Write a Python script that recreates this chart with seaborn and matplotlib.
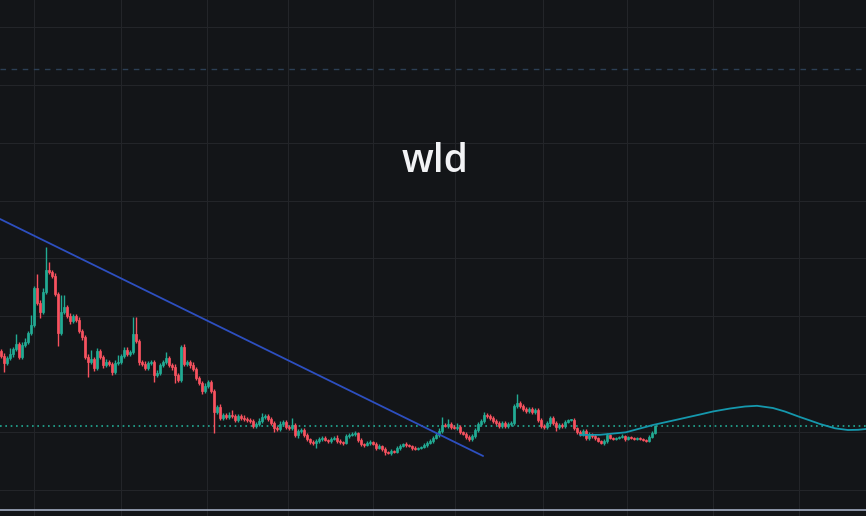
import numpy as np
import pandas as pd
import matplotlib
matplotlib.use("Agg")
import matplotlib.pyplot as plt
import seaborn as sns

# ---------------- data ----------------
title_text = "wld"
first_open = 16.5
closes = [
    16.0, 15.3, 15.8, 16.2, 16.7, 17.2, 15.9, 17.1, 17.4, 18.3,
    19.1, 22.8, 21.3, 20.4, 22.4, 24.6, 24.4, 24.0, 22.2, 18.3,
    20.4, 20.9, 20.0, 19.5, 20.0, 19.6, 18.5, 17.9, 15.9, 15.4,
    15.7, 14.8, 16.5, 15.9, 15.1, 15.4, 15.2, 14.4, 15.3, 15.4,
    16.0, 16.6, 16.2, 16.4, 18.2, 17.5, 15.4, 15.2, 14.8, 15.3,
    15.4, 14.1, 14.3, 15.1, 15.4, 15.8, 15.1, 14.9, 14.1, 13.6,
    16.9, 15.2, 15.4, 15.1, 14.7, 13.8, 13.3, 12.5, 13.0, 13.4,
    12.5, 10.4, 10.9, 9.8, 10.1, 9.9, 10.1, 10.0, 9.6, 10.0,
    9.8, 9.7, 9.6, 9.5, 9.0, 9.2, 9.5, 9.9, 10.0, 9.7,
    9.3, 8.8, 8.7, 9.2, 9.4, 8.9, 8.8, 9.1, 8.1, 8.5,
    8.6, 8.1, 7.7, 7.4, 7.3, 7.5, 7.7, 7.8, 7.6, 7.5,
    7.7, 7.8, 7.5, 7.4, 7.3, 8.0, 8.1, 8.2, 8.3, 7.6,
    7.2, 7.1, 7.3, 7.4, 7.2, 6.8, 7.0, 6.7, 6.4, 6.3,
    6.5, 6.4, 6.8, 7.0, 7.2, 7.1, 7.0, 6.8, 6.7, 6.8,
    6.9, 7.1, 7.3, 7.5, 7.8, 8.1, 8.5, 9.1, 9.0, 9.2,
    8.9, 8.8, 8.9, 8.4, 8.2, 7.9, 7.7, 8.0, 8.6, 9.2,
    9.5, 10.1, 10.0, 9.8, 9.5, 9.3, 9.0, 9.3, 9.0, 9.2,
    9.3, 11.0, 11.3, 11.0, 10.7, 10.5, 10.7, 10.4, 10.6, 9.6,
    9.0, 8.9, 9.3, 9.8, 9.3, 8.9, 9.1, 9.0, 9.4, 9.6,
    9.65, 8.8, 8.4, 8.2, 8.5, 7.8, 8.2, 8.0, 7.8, 7.5,
    7.3, 7.5, 8.1, 7.8, 7.7, 7.8, 7.9, 8.0, 7.7, 7.9,
    7.8, 7.7, 7.8, 7.7, 7.6, 7.5, 7.9, 8.3, 9.0,
]
wick_up = [
    0.2, 0.3, 0.2, 0.6, 0.2, 1.0, 0.2, 0.3, 0.4, 0.2,
    1.0, 0.2, 1.4, 0.3, 0.4, 2.3, 0.8, 0.2, 0.3, 0.2,
    1.7, 1.2, 0.2, 0.3, 0.2, 0.2, 0.3, 0.2, 0.2, 0.3,
    0.9, 0.2, 0.3, 0.2, 0.2, 0.3, 0.2, 0.2, 0.3, 0.7,
    0.2, 0.3, 0.3, 0.2, 1.7, 1.7, 0.2, 0.2, 0.3, 0.2,
    0.2, 0.2, 0.3, 0.2, 0.2, 0.6, 0.2, 0.2, 0.3, 0.2,
    0.2, 0.3, 0.2, 0.2, 0.3, 0.2, 0.2, 0.2, 0.3, 0.2,
    0.2, 0.2, 0.2, 0.3, 0.2, 0.2, 0.3, 0.5, 0.2, 0.2,
    0.2, 0.3, 0.2, 0.2, 0.2, 0.2, 0.3, 0.4, 0.2, 0.2,
    0.2, 0.2, 0.2, 0.3, 0.2, 0.2, 0.2, 0.7, 0.2, 0.2,
    0.2, 0.2, 0.2, 0.1, 0.2, 0.2, 0.2, 0.2, 0.2, 0.1,
    0.2, 0.2, 0.3, 0.2, 0.1, 0.2, 0.2, 0.2, 0.2, 0.1,
    0.2, 0.1, 0.2, 0.2, 0.1, 0.2, 0.2, 0.1, 0.2, 0.1,
    0.2, 0.1, 0.2, 0.2, 0.1, 0.2, 0.1, 0.1, 0.2, 0.1,
    0.1, 0.2, 0.2, 0.2, 0.2, 0.2, 0.3, 0.8, 0.2, 0.5,
    0.2, 0.2, 0.4, 0.2, 0.1, 0.2, 0.2, 0.2, 0.2, 0.2,
    0.2, 0.3, 0.2, 0.2, 0.2, 0.2, 0.2, 0.2, 0.2, 0.2,
    0.2, 0.2, 0.9, 0.2, 0.2, 0.2, 0.2, 0.2, 0.2, 0.2,
    0.2, 0.2, 0.2, 0.2, 0.2, 0.2, 0.2, 0.2, 0.2, 0.1,
    0.1, 0.2, 0.1, 0.2, 0.2, 0.2, 0.2, 0.1, 0.2, 0.1,
    0.1, 0.2, 0.2, 0.1, 0.1, 0.1, 0.1, 0.2, 0.1, 0.1,
    0.1, 0.1, 0.1, 0.1, 0.1, 0.1, 0.2, 0.2, 0.1,
]
wick_dn = [
    0.2, 0.9, 0.2, 0.2, 0.3, 0.2, 0.2, 0.2, 0.2, 0.2,
    0.2, 0.2, 0.2, 0.6, 0.2, 0.2, 0.2, 0.2, 0.2, 1.3,
    0.2, 0.2, 0.2, 0.3, 0.2, 0.2, 0.2, 0.3, 0.2, 1.5,
    0.2, 0.3, 0.2, 0.2, 0.3, 0.2, 0.2, 0.3, 0.2, 0.2,
    0.2, 0.2, 0.2, 0.2, 0.2, 0.2, 0.3, 0.2, 0.2, 0.2,
    0.2, 0.7, 0.2, 0.2, 0.2, 0.2, 0.2, 0.3, 0.8, 0.2,
    0.2, 0.2, 0.2, 0.3, 0.2, 0.2, 0.2, 0.3, 0.2, 0.2,
    0.2, 2.1, 0.2, 0.2, 0.2, 0.2, 0.2, 0.2, 0.2, 0.2,
    0.2, 0.2, 0.2, 0.2, 0.2, 0.2, 0.2, 0.2, 0.2, 0.2,
    0.2, 0.4, 0.2, 0.2, 0.2, 0.2, 0.2, 0.2, 0.2, 0.3,
    0.2, 0.2, 0.2, 0.2, 0.2, 0.5, 0.2, 0.2, 0.1, 0.2,
    0.2, 0.1, 0.2, 0.2, 0.2, 0.1, 0.2, 0.1, 0.2, 0.2,
    0.2, 0.2, 0.1, 0.2, 0.1, 0.2, 0.1, 0.2, 0.3, 0.1,
    0.2, 0.1, 0.1, 0.2, 0.1, 0.2, 0.1, 0.2, 0.1, 0.1,
    0.1, 0.1, 0.2, 0.1, 0.2, 0.1, 0.2, 0.2, 0.1, 0.2,
    0.2, 0.1, 0.2, 0.2, 0.1, 0.2, 0.2, 0.2, 0.2, 0.2,
    0.2, 0.2, 0.2, 0.2, 0.2, 0.2, 0.2, 0.2, 0.2, 0.2,
    0.2, 0.2, 0.2, 0.2, 0.2, 0.2, 0.2, 0.2, 0.2, 0.2,
    0.2, 0.2, 0.2, 0.2, 0.2, 0.4, 0.2, 0.2, 0.2, 0.1,
    0.1, 0.2, 0.2, 0.2, 0.2, 0.2, 0.2, 0.2, 0.2, 0.1,
    0.1, 0.2, 0.2, 0.1, 0.1, 0.1, 0.1, 0.1, 0.2, 0.1,
    0.1, 0.1, 0.1, 0.1, 0.1, 0.1, 0.1, 0.1, 0.1,
]

# time grid (candle index) and price grid
month_ticks = [11, 40, 68.7, 95.7, 124, 151.3, 180.7, 208.7, 237.3, 266]
price_grid = [2.6, 8.4, 14.2, 20.0, 25.8, 31.5, 37.3, 43.1, 48.9]
last_price = 9.0
alert_level = 44.7
base_level = 0.6

# drawn trend line and projected path
trend_x = [-0.33, 160.7]
trend_y = [29.7, 6.0]
proj_x = [193.0, 199.7, 208.3, 217.3, 226.3, 233.0, 237.3, 243.0, 248.0, 252.0,
          257.3, 261.3, 266.0, 269.7, 273.0, 278.0, 282.3, 285.7, 288.3]
proj_y = [8.10, 8.12, 8.37, 9.10, 9.70, 10.15, 10.45, 10.75, 10.95, 11.02,
          10.80, 10.45, 9.93, 9.55, 9.20, 8.77, 8.60, 8.62, 8.70]

# ---------------- styling ----------------
BG = "#131518"
GRID = "#232529"
UP = "#22ab94"
DOWN = "#f7525f"

sns.set_theme(style="dark", rc={"axes.facecolor": BG, "figure.facecolor": BG})
plt.rcParams["font.family"] = ["Open Sans", "DejaVu Sans"]

fig = plt.figure(figsize=(8.66, 5.16), dpi=100)
ax = fig.add_axes([0, 0, 1, 1])
ax.set_facecolor(BG)

# grid
ax.vlines(month_ticks, 0, 60, color=GRID, lw=0.8, zorder=0)
ax.hlines(price_grid, -10, 300, color=GRID, lw=0.8, zorder=0)

# candle table
df = pd.DataFrame({"close": closes, "wu": wick_up, "wd": wick_dn})
df["idx"] = np.arange(len(df))
df["open"] = [first_open] + closes[:-1]          # each candle opens at previous close
df["top"] = df[["open", "close"]].max(axis=1)
df["bot"] = df[["open", "close"]].min(axis=1)
df["high"] = df["top"] + df["wu"]
df["low"] = df["bot"] - df["wd"]
df["color"] = np.where(df["close"] >= df["open"], UP, DOWN)

ax.vlines(df["idx"], df["low"], df["high"], colors=df["color"], lw=1.0, zorder=3)
ax.bar(df["idx"], np.maximum(df["top"] - df["bot"], 0.1), bottom=df["bot"],
       width=0.8, color=df["color"], edgecolor=df["color"], linewidth=0.5,
       zorder=4)

# levels
ax.axhline(last_price, color=UP, lw=1.2, ls=(0, (1, 2.2)), zorder=2)
ax.axhline(alert_level, color="#2c3f55", lw=1.0, ls=(0, (4, 4)), zorder=2)
ax.axhline(base_level, color="#a3adc2", lw=1.2, zorder=2)

# trend line and projection
sns.lineplot(x=trend_x, y=trend_y, ax=ax, color="#2d4fc0", lw=1.3, sort=False,
             zorder=5, legend=False)
sns.lineplot(x=proj_x, y=proj_y, ax=ax, color="#1598ad", lw=1.3, sort=False,
             zorder=5, legend=False)

ax.text(0.502, 0.667, title_text, transform=ax.transAxes, ha="center",
        va="baseline", fontsize=28, fontweight="semibold", color="#f2f3f5")

ax.set_xlim(-0.333, 288.333)
ax.set_ylim(0, 51.6)
ax.set_xticks([])
ax.set_yticks([])
ax.set_xlabel("")
ax.set_ylabel("")
for s in ax.spines.values():
    s.set_visible(False)

fig.savefig("out.png", dpi=100, facecolor=BG)
